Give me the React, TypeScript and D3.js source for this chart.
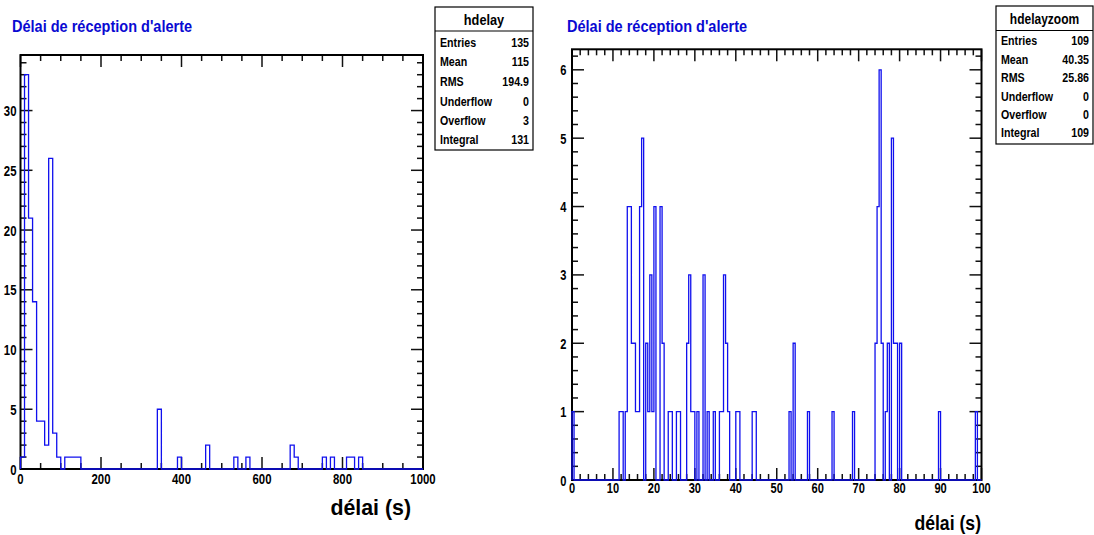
import React from 'react';
import * as d3 from 'd3';

// ---------- DATA ----------
const titleText = "Délai de réception d'alerte";
const axisTitle = 'délai (s)';

// hdelay: 100 bins from 0 to 1000 s
const leftRange = [0, 1000];
const leftCounts = [
  1, 33, 21, 14, 4, 4, 2, 26, 3, 1,
  0, 1, 1, 1, 1, 0, 0, 0, 0, 0,
  0, 0, 0, 0, 0, 0, 0, 0, 0, 0,
  0, 0, 0, 0, 5, 0, 0, 0, 0, 1,
  0, 0, 0, 0, 0, 0, 2, 0, 0, 0,
  0, 0, 0, 1, 0, 0, 1, 0, 0, 0,
  0, 0, 0, 0, 0, 0, 0, 2, 1, 0,
  0, 0, 0, 0, 0, 1, 0, 1, 0, 0,
  0, 1, 1, 0, 1, 0, 0, 0, 0, 0,
  0, 0, 0, 0, 0, 0, 0, 0, 0, 0,
];
const leftXTicks = [0, 200, 400, 600, 800, 1000];
const leftYTicks = [0, 5, 10, 15, 20, 25, 30];

// hdelayzoom: 200 bins from 0 to 100 s
const rightRange = [0, 100];
const rightCounts = [
  1, 0, 0, 0, 0, 0, 0, 0, 0, 0,
  0, 0, 0, 0, 0, 0, 0, 0, 0, 0,
  0, 0, 0, 1, 1, 0, 1, 4, 4, 2,
  2, 1, 1, 4, 5, 0, 2, 1, 3, 1,
  4, 0, 0, 4, 2, 0, 0, 1, 1, 0,
  0, 1, 1, 0, 0, 0, 2, 3, 1, 1,
  0, 1, 0, 0, 3, 0, 1, 0, 0, 1,
  0, 0, 1, 1, 3, 2, 1, 0, 0, 0,
  1, 1, 0, 0, 0, 0, 0, 0, 1, 1,
  0, 0, 0, 0, 0, 0, 0, 0, 0, 0,
  0, 0, 0, 0, 0, 0, 1, 0, 2, 0,
  0, 0, 0, 0, 0, 1, 0, 0, 0, 0,
  0, 0, 0, 0, 0, 0, 0, 1, 0, 0,
  0, 0, 0, 0, 0, 0, 0, 1, 0, 0,
  0, 0, 0, 0, 0, 0, 0, 0, 2, 4,
  6, 2, 0, 1, 2, 0, 5, 2, 2, 0,
  2, 0, 0, 0, 0, 0, 0, 0, 0, 0,
  0, 0, 0, 0, 0, 0, 0, 0, 0, 1,
  0, 0, 0, 0, 0, 0, 0, 0, 0, 0,
  0, 0, 0, 0, 0, 0, 0, 1, 0, 0,
];
const rightXTicks = [0, 10, 20, 30, 40, 50, 60, 70, 80, 90, 100];
const rightYTicks = [0, 1, 2, 3, 4, 5, 6];

const statLabels = ['Entries', 'Mean', 'RMS', 'Underflow', 'Overflow', 'Integral'];
const leftStatName = 'hdelay';
const leftStatValues = ['135', '115', '194.9', '0', '3', '131'];
const rightStatName = 'hdelayzoom';
const rightStatValues = ['109', '40.35', '25.86', '0', '0', '109'];

// ---------- STYLE ----------
const FONT = "'Liberation Sans', Arial, Helvetica, sans-serif";
const HIST_COLOR = '#1010ee';
const TITLE_COLOR = '#0a0ad2';

function NText({ x, y, size, sx = 0.82, anchor = 'start', fill = '#000', children }: any) {
  return (
    <text
      transform={`translate(${x},${y}) scale(${sx},1)`}
      fontFamily={FONT}
      fontWeight="bold"
      fontSize={size}
      textAnchor={anchor}
      fill={fill}
    >
      {children}
    </text>
  );
}

function Panel({ frame, range, counts, xTicks, xMinorStep, yTicks, yMinorStep, titleX, titleY, axisTitleX, axisTitleY, axisTitleSize, axisTitleSx, xLabelDy, yLabelX, labelSize, labelSx }: any) {
  const { left, right, top, bottom } = frame;
  const ymax = d3.max(counts as number[])! * 1.05;
  const x = d3.scaleLinear().domain(range).range([left, right]);
  const y = d3.scaleLinear().domain([0, ymax]).range([bottom, top]);
  const n = counts.length;
  const bw = (range[1] - range[0]) / n;

  const pts: [number, number][] = [[x(range[0]), y(0)]];
  counts.forEach((c: number, i: number) => {
    const lo = range[0] + i * bw;
    pts.push([x(lo), y(c)]);
    pts.push([x(lo + bw), y(c)]);
  });
  pts.push([x(range[1]), y(0)]);
  const path = d3.line()(pts) || '';

  const xMinor = d3.range(range[0], range[1] + 1e-9, xMinorStep);
  const yMinor = d3.range(0, ymax, yMinorStep);
  const isMajorX = (v: number) => xTicks.some((t: number) => Math.abs(t - v) < 1e-6);
  const isMajorY = (v: number) => yTicks.some((t: number) => Math.abs(t - v) < 1e-6);
  const majLen = 12, minLen = 6;

  return (
    <g>
      <NText x={titleX} y={titleY} size={16.5} sx={0.88} fill={TITLE_COLOR}>{titleText}</NText>
      <g stroke="#111" strokeWidth={1.5}>
        {xMinor.map((v, i) => {
          const L = isMajorX(v) ? majLen : minLen;
          const xx = x(v);
          return (
            <g key={'x' + i}>
              <line x1={xx} x2={xx} y1={bottom} y2={bottom - L} />
              <line x1={xx} x2={xx} y1={top} y2={top + L} />
            </g>
          );
        })}
        {yMinor.map((v, i) => {
          const L = isMajorY(v) ? majLen : minLen;
          const yy = y(v);
          return (
            <g key={'y' + i}>
              <line x1={left} x2={left + L} y1={yy} y2={yy} />
              <line x1={right} x2={right - L} y1={yy} y2={yy} />
            </g>
          );
        })}
      </g>
      <rect x={left} y={top} width={right - left} height={bottom - top} fill="none" stroke="#000" strokeWidth={2} />
      <path d={path} fill="none" stroke={HIST_COLOR} strokeWidth={1.3} />
      {xTicks.map((t: number) => (
        <NText key={'xl' + t} x={x(t)} y={bottom + xLabelDy} size={labelSize} sx={labelSx} anchor="middle">{String(t)}</NText>
      ))}
      {yTicks.map((t: number) => (
        <NText key={'yl' + t} x={yLabelX} y={y(t) + 5.5} size={labelSize} sx={labelSx} anchor="end">{String(t)}</NText>
      ))}
      <NText x={axisTitleX} y={axisTitleY} size={axisTitleSize} sx={axisTitleSx} anchor="end">{axisTitle}</NText>
    </g>
  );
}

function StatBox({ box, name, nameSx, values, rowY }: any) {
  const { left, right, top, sep, bottom } = box;
  return (
    <g>
      <rect x={left} y={top} width={right - left} height={bottom - top} fill="#fff" stroke="#000" strokeWidth={1.2} />
      <line x1={left} x2={right} y1={sep} y2={sep} stroke="#000" strokeWidth={1.2} />
      <NText x={(left + right) / 2} y={(top + sep) / 2 + 5.5} size={15} sx={nameSx} anchor="middle">{name}</NText>
      {statLabels.map((lab, i) => (
        <g key={lab}>
          <NText x={left + 5} y={rowY[i] + 5} size={13} sx={0.82}>{lab}</NText>
          <NText x={right - 4} y={rowY[i] + 5} size={13} sx={0.82} anchor="end">{values[i]}</NText>
        </g>
      ))}
    </g>
  );
}

export default function App() {
  return (
    <svg width={1094} height={535} style={{ position: 'absolute', left: 0, top: 0, background: '#fff' }}>
      <rect width={1094} height={535} fill="#fff" />
      <Panel
        frame={{ left: 20.5, right: 423, top: 55, bottom: 469 }}
        range={leftRange}
        counts={leftCounts}
        xTicks={leftXTicks}
        xMinorStep={50}
        yTicks={leftYTicks}
        yMinorStep={1}
        titleX={12}
        titleY={32}
        axisTitleX={411}
        axisTitleY={515}
        axisTitleSize={22}
        axisTitleSx={0.97}
        xLabelDy={15}
        yLabelX={16.5}
        labelSize={15}
        labelSx={0.76}
      />
      <Panel
        frame={{ left: 572, right: 981.5, top: 49.3, bottom: 480 }}
        range={rightRange}
        counts={rightCounts}
        xTicks={rightXTicks}
        xMinorStep={2}
        yTicks={rightYTicks}
        yMinorStep={0.2}
        titleX={567}
        titleY={32}
        axisTitleX={981}
        axisTitleY={530}
        axisTitleSize={21}
        axisTitleSx={0.84}
        xLabelDy={13}
        yLabelX={566.5}
        labelSize={15}
        labelSx={0.74}
      />
      <StatBox
        box={{ left: 435, right: 533, top: 7, sep: 31, bottom: 150 }}
        name={leftStatName}
        nameSx={0.85}
        values={leftStatValues}
        rowY={[41.5, 61, 80.5, 100.5, 120, 139]}
      />
      <StatBox
        box={{ left: 996, right: 1093, top: 6, sep: 30.5, bottom: 144 }}
        name={rightStatName}
        nameSx={0.8}
        values={rightStatValues}
        rowY={[40, 58.5, 76.5, 95.5, 114, 132]}
      />
    </svg>
  );
}
